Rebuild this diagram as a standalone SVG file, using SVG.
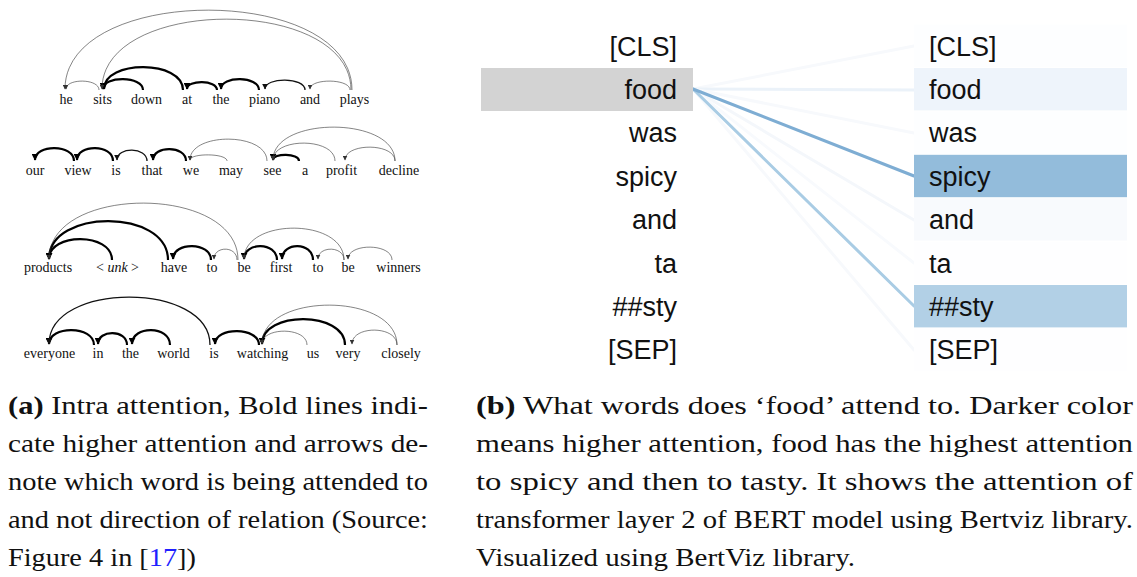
<svg xmlns="http://www.w3.org/2000/svg" width="1137" height="577" viewBox="0 0 1137 577">
  <style>
    .w { font-family: "Liberation Serif", "Times New Roman", serif; font-size: 14px; fill: #111; text-anchor: middle; }
    .tok { font-family: "Liberation Sans", Arial, sans-serif; font-size: 27px; fill: #111; }
    .tl { text-anchor: end; }
    .arc-b { fill: none; stroke: #000; stroke-width: 2.2; marker-end: url(#ahB); }
    .arc-m { fill: none; stroke: #111; stroke-width: 1.3; marker-end: url(#ahM); }
    .arc-t { fill: none; stroke: #333; stroke-width: 0.6; marker-end: url(#ahT); }
    .att { fill: none; stroke-width: 3; stroke-linecap: round; }
    .cap { font-family: "Liberation Serif", "Times New Roman", serif; font-size: 25px; fill: #111; }
    .bf { font-weight: bold; }
    .ref { fill: #1f1fff; }
  </style>
  <defs>
    <marker id="ahB" viewBox="0 0 10 10" refX="9" refY="5" markerWidth="7" markerHeight="7" markerUnits="userSpaceOnUse" orient="auto">
      <path d="M0,0 L10,5 L0,10 z" fill="#000"/>
    </marker>
    <marker id="ahM" viewBox="0 0 10 10" refX="9" refY="5" markerWidth="6" markerHeight="6" markerUnits="userSpaceOnUse" orient="auto">
      <path d="M0,0 L10,5 L0,10 z" fill="#111"/>
    </marker>
    <marker id="ahT" viewBox="0 0 10 10" refX="9" refY="5" markerWidth="5" markerHeight="5" markerUnits="userSpaceOnUse" orient="auto">
      <path d="M0,0 L10,5 L0,10 z" fill="#333"/>
    </marker>
  </defs>

  <rect width="1137" height="577" fill="#fff"/>

  <!-- ===== Panel (a): intra-attention arcs over four sentences ===== -->
  <g id="sentence-1">
    <g id="s1-he"><text class="w" x="66" y="104">he</text></g>
    <g id="s1-sits"><text class="w" x="102.5" y="104">sits</text></g>
    <g id="s1-down"><text class="w" x="146.5" y="104">down</text></g>
    <g id="s1-at"><text class="w" x="187" y="104">at</text></g>
    <g id="s1-the"><text class="w" x="221" y="104">the</text></g>
    <g id="s1-piano"><text class="w" x="264.5" y="104">piano</text></g>
    <g id="s1-and"><text class="w" x="310" y="104">and</text></g>
    <g id="s1-plays"><text class="w" x="354.5" y="104">plays</text></g>
  </g>

  <g id="sentence-2">
    <g id="s2-our"><text class="w" x="35" y="174.5">our</text></g>
    <g id="s2-view"><text class="w" x="78" y="174.5">view</text></g>
    <g id="s2-is"><text class="w" x="116" y="174.5">is</text></g>
    <g id="s2-that"><text class="w" x="152" y="174.5">that</text></g>
    <g id="s2-we"><text class="w" x="191" y="174.5">we</text></g>
    <g id="s2-may"><text class="w" x="231" y="174.5">may</text></g>
    <g id="s2-see"><text class="w" x="272.5" y="174.5">see</text></g>
    <g id="s2-a"><text class="w" x="305" y="174.5">a</text></g>
    <g id="s2-profit"><text class="w" x="341.5" y="174.5">profit</text></g>
    <g id="s2-decline"><text class="w" x="399" y="174.5">decline</text></g>
  </g>

  <g id="sentence-3">
    <g id="s3-products"><text class="w" x="48" y="272">products</text></g>
    <g id="s3-unk"><text class="w" x="117.5" y="272">&lt; <tspan font-style="italic">unk</tspan> &gt;</text></g>
    <g id="s3-have"><text class="w" x="174" y="272">have</text></g>
    <g id="s3-to1"><text class="w" x="212" y="272">to</text></g>
    <g id="s3-be1"><text class="w" x="244" y="272">be</text></g>
    <g id="s3-first"><text class="w" x="281" y="272">first</text></g>
    <g id="s3-to2"><text class="w" x="318" y="272">to</text></g>
    <g id="s3-be2"><text class="w" x="348" y="272">be</text></g>
    <g id="s3-winners"><text class="w" x="398.5" y="272">winners</text></g>
  </g>

  <g id="sentence-4">
    <g id="s4-everyone"><text class="w" x="49.5" y="357.5">everyone</text></g>
    <g id="s4-in"><text class="w" x="98" y="357.5">in</text></g>
    <g id="s4-the"><text class="w" x="130.5" y="357.5">the</text></g>
    <g id="s4-world"><text class="w" x="173.5" y="357.5">world</text></g>
    <g id="s4-is"><text class="w" x="214" y="357.5">is</text></g>
    <g id="s4-watching"><text class="w" x="262.5" y="357.5">watching</text></g>
    <g id="s4-us"><text class="w" x="313" y="357.5">us</text></g>
    <g id="s4-very"><text class="w" x="348" y="357.5">very</text></g>
    <g id="s4-closely"><text class="w" x="401" y="357.5">closely</text></g>
  </g>

  <g id="arcs">
    <!-- sentence 1 -->
    <path class="arc-t" d="M99,90 C99,78.3 66,78.3 66,89"/>
    <path class="arc-b" d="M143,90 C143,75.7 103,75.7 103,89"/>
    <path class="arc-b" d="M183,90 C183,59.7 104,59.7 104,89"/>
    <path class="arc-b" d="M217,90 C217,79.7 187,79.7 187,89"/>
    <path class="arc-b" d="M259,90 C259,75.7 221,75.7 221,89"/>
    <path class="arc-m" d="M305,90 C305,77 265,77 265,89"/>
    <path class="arc-t" d="M350,90 C350,78.3 310,78.3 310,89"/>
    <path class="arc-t" d="M352,90 C352,-16.3 65,-16.3 65,89"/>
    <path class="arc-t" d="M351,90 C351,-4.3 102,-4.3 102,89"/>
    <!-- sentence 2 -->
    <path class="arc-b" d="M74,161 C74,144 35,144 35,160"/>
    <path class="arc-b" d="M113,161 C113,144 77,144 77,160"/>
    <path class="arc-m" d="M147,161 C147,146.7 117,146.7 117,160"/>
    <path class="arc-b" d="M186,161 C186,145.3 153,145.3 153,160"/>
    <path class="arc-t" d="M227,161 C227,153 190,153 190,160"/>
    <path class="arc-t" d="M267,161 C267,132 190,132 190,160"/>
    <path class="arc-b" d="M299,161 C299,153 273,153 273,160"/>
    <path class="arc-t" d="M335,161 C335,137.3 273,137.3 273,160"/>
    <path class="arc-t" d="M395,161 C395,116 273,116 273,160"/>
    <path class="arc-t" d="M395,161 C395,142.7 345,142.7 345,160"/>
    <!-- sentence 3 -->
    <path class="arc-b" d="M112,260 C112,232.3 49,232.3 49,259"/>
    <path class="arc-b" d="M168,260 C168,208.3 49,208.3 49,259"/>
    <path class="arc-t" d="M238,260 C238,184.3 49,184.3 49,259"/>
    <path class="arc-b" d="M211,260 C211,241.7 173,241.7 173,259"/>
    <path class="arc-t" d="M237,260 C237,245.7 214,245.7 214,259"/>
    <path class="arc-b" d="M277,260 C277,241.7 244,241.7 244,259"/>
    <path class="arc-b" d="M313,260 C313,241.7 282,241.7 282,259"/>
    <path class="arc-t" d="M344,260 C344,217.7 244,217.7 244,259"/>
    <path class="arc-t" d="M344,260 C344,245.7 318,245.7 318,259"/>
    <path class="arc-t" d="M392,260 C392,243 348,243 348,259"/>
    <!-- sentence 4 -->
    <path class="arc-b" d="M94,345 C94,325.3 49,325.3 49,344"/>
    <path class="arc-b" d="M127,345 C127,329.3 98,329.3 98,344"/>
    <path class="arc-b" d="M170,345 C170,325.3 132,325.3 132,344"/>
    <path class="arc-m" d="M210,345 C210,281.3 49,281.3 49,344"/>
    <path class="arc-b" d="M259,345 C259,326.7 215,326.7 215,344"/>
    <path class="arc-t" d="M307,345 C307,326.7 262,326.7 262,344"/>
    <path class="arc-b" d="M345,345 C345,310.7 262,310.7 262,344"/>
    <path class="arc-t" d="M397,345 C397,292 262,292 262,344"/>
    <path class="arc-t" d="M397,345 C397,325.3 352,325.3 352,344"/>
  </g>

  <!-- ===== Panel (b): attention from 'food' in BERT layer 2 ===== -->
  <g id="attention-lines">
    <line class="att" x1="693" y1="89" x2="914" y2="46" stroke="#f7f9fc"/>
    <line class="att" x1="693" y1="89" x2="914" y2="90" stroke="#ebf2f9"/>
    <line class="att" x1="693" y1="89" x2="914" y2="133" stroke="#f7f9fc"/>
    <line class="att" x1="693" y1="89" x2="914" y2="220" stroke="#f4f7fb"/>
    <line class="att" x1="693" y1="89" x2="914" y2="263" stroke="#f8fafd"/>
    <line class="att" x1="693" y1="89" x2="914" y2="350" stroke="#f7f9fc"/>
    <line class="att" x1="693" y1="89" x2="914" y2="306" stroke="#a9cce4"/>
    <line class="att" x1="693" y1="89" x2="914" y2="176" stroke="#7eadd3"/>
  </g>

  <g id="left-tokens">
    <g id="q-cls"><text class="tok tl" x="677" y="55.5">[CLS]</text></g>
    <g id="q-food"><rect x="481" y="68" width="212" height="43" fill="#d3d3d3"/><text class="tok tl" x="677" y="98.9">food</text></g>
    <g id="q-was"><text class="tok tl" x="677" y="142.3">was</text></g>
    <g id="q-spicy"><text class="tok tl" x="677" y="185.7">spicy</text></g>
    <g id="q-and"><text class="tok tl" x="677" y="229.1">and</text></g>
    <g id="q-ta"><text class="tok tl" x="677" y="272.5">ta</text></g>
    <g id="q-sty"><text class="tok tl" x="677" y="315.9">##sty</text></g>
    <g id="q-sep"><text class="tok tl" x="677" y="359.3">[SEP]</text></g>
  </g>

  <g id="right-tokens">
    <g id="k-cls"><rect x="914" y="24.6" width="213" height="42.4" fill="#fdfeff"/><text class="tok" x="929" y="55.5">[CLS]</text></g>
    <g id="k-food"><rect x="914" y="68" width="213" height="42.4" fill="#eef4fb"/><text class="tok" x="929" y="98.9">food</text></g>
    <g id="k-was"><rect x="914" y="111.4" width="213" height="42.4" fill="#fdfeff"/><text class="tok" x="929" y="142.3">was</text></g>
    <g id="k-spicy"><rect x="914" y="154.8" width="213" height="42.4" fill="#93bcdb"/><text class="tok" x="929" y="185.7">spicy</text></g>
    <g id="k-and"><rect x="914" y="198.2" width="213" height="42.4" fill="#f8fafd"/><text class="tok" x="929" y="229.1">and</text></g>
    <g id="k-ta"><rect x="914" y="241.6" width="213" height="42.4" fill="#fefeff"/><text class="tok" x="929" y="272.5">ta</text></g>
    <g id="k-sty"><rect x="914" y="285" width="213" height="42.4" fill="#b2d0e6"/><text class="tok" x="929" y="315.9">##sty</text></g>
    <g id="k-sep"><rect x="914" y="328.4" width="213" height="42.4" fill="#fefeff"/><text class="tok" x="929" y="359.3">[SEP]</text></g>
  </g>

  <!-- ===== Captions ===== -->
  <g id="caption-a">
    <text class="cap" x="8" y="414" textLength="420" lengthAdjust="spacingAndGlyphs"><tspan class="bf">(a)</tspan> Intra attention, Bold lines indi-</text>
    <text class="cap" x="8" y="452" textLength="420" lengthAdjust="spacingAndGlyphs">cate higher attention and arrows de-</text>
    <text class="cap" x="8" y="490" textLength="420" lengthAdjust="spacingAndGlyphs">note which word is being attended to</text>
    <text class="cap" x="8" y="528" textLength="420" lengthAdjust="spacingAndGlyphs">and not direction of relation (Source:</text>
    <text class="cap" x="8" y="566" textLength="188" lengthAdjust="spacingAndGlyphs">Figure 4 in [<tspan class="ref">17</tspan>])</text>
  </g>
  <g id="caption-b">
    <text class="cap" x="476" y="414" textLength="657" lengthAdjust="spacingAndGlyphs"><tspan class="bf">(b)</tspan> What words does ‘food’ attend to.  Darker color</text>
    <text class="cap" x="476" y="452" textLength="657" lengthAdjust="spacingAndGlyphs">means higher attention, food has the highest attention</text>
    <text class="cap" x="476" y="490" textLength="657" lengthAdjust="spacingAndGlyphs">to spicy and then to tasty.  It shows the attention of</text>
    <text class="cap" x="476" y="528" textLength="657" lengthAdjust="spacingAndGlyphs">transformer layer 2 of BERT model using Bertviz library.</text>
    <text class="cap" x="476" y="566" textLength="379" lengthAdjust="spacingAndGlyphs">Visualized using BertViz library.</text>
  </g>
</svg>
